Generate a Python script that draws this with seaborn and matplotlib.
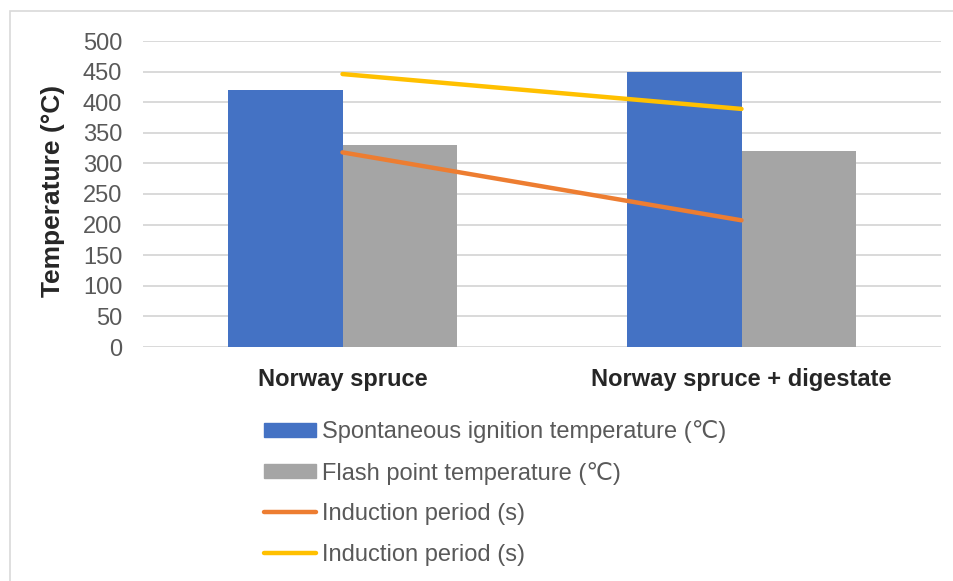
import matplotlib
matplotlib.use("Agg")
import matplotlib.pyplot as plt
import matplotlib.patches as mpatches
from matplotlib.lines import Line2D
import seaborn as sns
import pandas as pd

# data
categories = ["Norway spruce", "Norway spruce + digestate"]
ignition_temp = [420, 450]
flash_temp = [330, 320]
induction_orange = [318, 207]
induction_yellow = [446, 389]
series_names = ["Spontaneous ignition temperature (\u2103)",
                "Flash point temperature (\u2103)",
                "Induction period (s)",
                "Induction period (s)"]
y_ticks = [0, 50, 100, 150, 200, 250, 300, 350, 400, 450, 500]

blue = "#4472C4"
grey = "#A5A5A5"
orange = "#ED7D31"
yellow = "#FFC000"

sns.set_style("white")
plt.rcParams['font.family'] = ['Liberation Sans', 'DejaVu Sans']

bars = pd.DataFrame({
    "cat": categories * 2,
    "val": ignition_temp + flash_temp,
    "series": [series_names[0]] * 2 + [series_names[1]] * 2,
})

fig = plt.figure(figsize=(9.54, 5.81), dpi=100)
ax = fig.add_axes([143 / 954, 1 - 347 / 581, 798 / 954, 306 / 581])

sns.barplot(data=bars, x="cat", y="val", hue="series",
            palette=[blue, grey], width=0.572, saturation=1,
            linewidth=0, ax=ax, legend=False)

sns.lineplot(x=[0, 1], y=induction_orange, color=orange, lw=3.2,
             solid_capstyle="round", ax=ax)
sns.lineplot(x=[0, 1], y=induction_yellow, color=yellow, lw=3.2,
             solid_capstyle="round", ax=ax)

ax.set_xlim(-0.5, 1.5)
ax.set_ylim(0, 500)
ax.set_yticks(y_ticks)
ax.yaxis.grid(True, color="#D9D9D9", lw=1.4)
ax.set_axisbelow(True)
for s in ax.spines.values():
    s.set_visible(False)
ax.tick_params(axis="y", length=0, pad=15, labelsize=17, labelcolor="#595959")
ax.tick_params(axis="x", length=0, pad=15, labelsize=17)
for lab in ax.get_xticklabels():
    lab.set_fontweight("bold")
ax.set_xlabel("")
ax.set_ylabel("Temperature (\u00b0C)", fontsize=19, fontweight="bold")
ax.yaxis.set_label_coords(-0.098, 0.51)

handles = [mpatches.Patch(color=blue), mpatches.Patch(color=grey),
           Line2D([], [], color=orange, lw=3.2, solid_capstyle="round"),
           Line2D([], [], color=yellow, lw=3.2, solid_capstyle="round")]
leg = fig.legend(handles, series_names, loc="upper left",
                 bbox_to_anchor=(255 / 954, 1 - 411 / 581), frameon=False,
                 fontsize=17, handlelength=2.2, handleheight=0.55,
                 handletextpad=0.25, labelspacing=0.78, borderaxespad=0)
for t in leg.get_texts():
    t.set_color("#595959")

# light frame around the chart area
fig.patches.append(mpatches.Rectangle((10 / 954, -0.05), 1.1, 1 - 11 / 581 + 0.05,
                                      transform=fig.transFigure, fill=False,
                                      edgecolor="#D9D9D9", lw=1.2))

fig.savefig("out.png", dpi=100)
